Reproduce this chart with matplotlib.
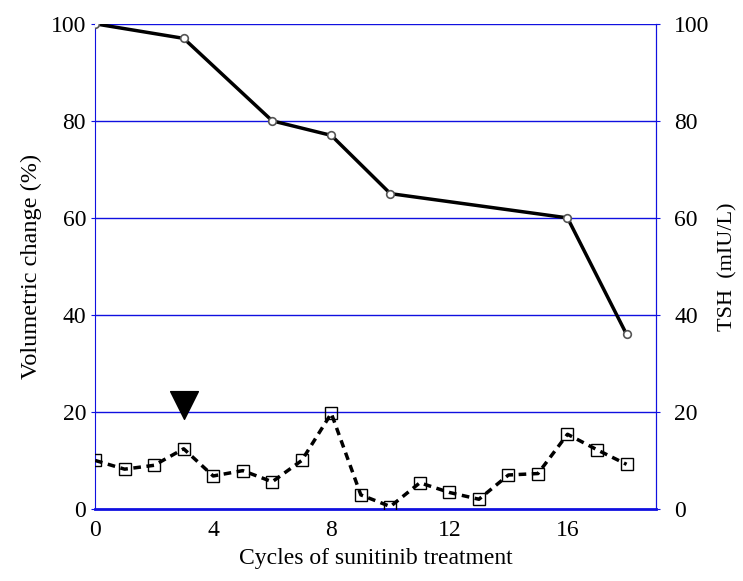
import matplotlib.pyplot as plt

plt.rcParams['font.family'] = ['Liberation Serif', 'DejaVu Serif']

# dane
cycles_vol = [0, 3, 6, 8, 10, 16, 18]
volume = [100, 97, 80, 77, 65, 60, 36]

cycles_tsh = list(range(19))
tsh = [10, 8.2, 9, 12.4, 6.8, 7.9, 5.6, 10, 19.7, 2.9, 0.5, 5.4, 3.4, 2, 7, 7.3, 15.4, 12.2, 9.2]

arrow_cycle = 3
arrow_level = 21.5

blue = '#1010e0'

fig = plt.figure(figsize=(7.43, 5.81), dpi=100)
ax = fig.add_axes([0.128, 0.124, 0.755, 0.835])

# linie siatki
for yv in [20, 40, 60, 80, 100]:
    ax.axhline(yv, color=blue, lw=1.0, zorder=1)

ax.plot(cycles_vol, volume, color='black', lw=2.5, marker='o', ms=5.5,
        mfc='white', mec='#555555', mew=1.2, zorder=3)
ax.plot(cycles_tsh, tsh, color='black', lw=2.5, ls=(0, (2.2, 1.6)), marker='s', ms=8,
        mfc='none', mec='black', mew=1.0, zorder=3)
ax.scatter([arrow_cycle], [arrow_level], marker='v', s=400, color='black', zorder=4)

ax.set_xlim(0, 19)
ax.set_ylim(0, 100)
ax.set_xticks([0, 4, 8, 12, 16])
ax.set_yticks([0, 20, 40, 60, 80, 100])

for side in ['left', 'right']:
    ax.spines[side].set_color(blue)
ax.spines['bottom'].set_color(blue)
ax.spines['bottom'].set_linewidth(2)
ax.spines['top'].set_visible(False)
ax.spines['bottom'].set_zorder(2)
ax.tick_params(axis='both', colors=blue, labelcolor='black', labelsize=17, length=3)
ax.tick_params(axis='x', length=0, pad=8)

ax2 = ax.twinx()
ax2.set_ylim(0, 100)
ax2.set_yticks([0, 20, 40, 60, 80, 100])
ax2.spines['right'].set_color(blue)
ax2.spines['top'].set_visible(False)
ax2.spines['left'].set_visible(False)
ax2.spines['bottom'].set_visible(False)
ax2.tick_params(axis='y', colors=blue, labelcolor='black', labelsize=17, length=3, pad=10)

ax.set_xlabel('Cycles of sunitinib treatment', fontsize=17, labelpad=5)
ax.set_ylabel('Volumetric change (%)', fontsize=17.5, labelpad=6)
ax2.set_ylabel('TSH  (mIU/L)', fontsize=16, labelpad=6)

plt.savefig('out.png', dpi=100)
